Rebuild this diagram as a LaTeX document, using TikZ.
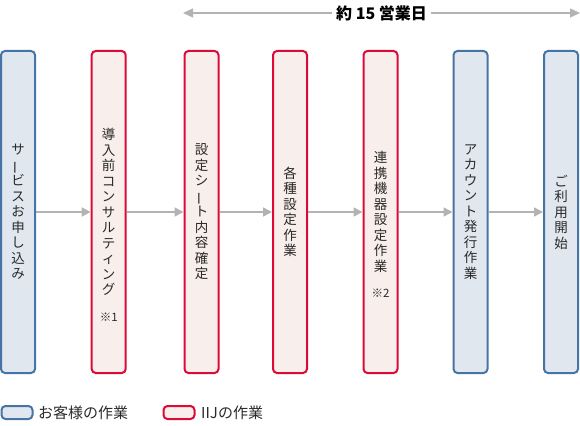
\documentclass[tikz,border=0pt]{standalone}
\usepackage{fontspec}
\usepackage{graphicx}
\setmainfont{Noto Sans CJK JP}
\usetikzlibrary{arrows.meta}
\definecolor{custline}{HTML}{4675A5}
\definecolor{custfill}{HTML}{E0E7EF}
\definecolor{iijline}{HTML}{DC0A37}
\definecolor{iijfill}{HTML}{F8EEEB}
\definecolor{arrowgray}{HTML}{B3B3B3}
\definecolor{txt}{HTML}{2A2A2A}
\newcommand\vbar{\rotatebox[origin=c]{90}{ー}}
\begin{document}
\begin{tikzpicture}[x=1pt,y=-1pt,
  stepbox/.style={rounded corners=4pt,line width=2pt,minimum width=34pt,minimum height=322pt,
    align=center,inner sep=0pt,text=txt,font=\fontsize{13.5}{15.5}\selectfont},
  custbox/.style={stepbox,draw=custline,fill=custfill},
  iijbox/.style={stepbox,draw=iijline,fill=iijfill},
  note/.style={text=txt,font=\fontsize{11.5}{13}\selectfont,inner sep=0pt},
  flow/.style={draw=arrowgray,line width=1.6pt,-{Triangle[length=9pt,width=9pt]}},
  legbox/.style={rounded corners=4pt,line width=2pt,minimum width=31pt,minimum height=13pt,inner sep=0pt},
  legtext/.style={text=txt,font=\fontsize{15}{17}\selectfont,anchor=west,inner sep=0pt}]
\useasboundingbox (0,0) rectangle (580,425);
\node[custbox] (b1) at (18,212) {サ\\\vbar\\ビ\\ス\\お\\申\\し\\込\\み};
\node[iijbox] (b2) at (108.7,212) {導\\入\\前\\コ\\ン\\サ\\ル\\テ\\ィ\\ン\\グ};
\node[iijbox] (b3) at (201.5,212) {設\\定\\シ\\\vbar\\ト\\内\\容\\確\\定};
\node[iijbox] (b4) at (290,212) {各\\種\\設\\定\\作\\業};
\node[iijbox] (b5) at (380.5,212) {連\\携\\機\\器\\設\\定\\作\\業};
\node[custbox] (b6) at (470.5,212) {ア\\カ\\ウ\\ン\\ト\\発\\行\\作\\業};
\node[custbox] (b7) at (561,212) {ご\\利\\用\\開\\始};
\node[note] (n1) at (108.7,317) {※1};
\node[note] (n2) at (380.5,293) {※2};
\draw[flow] (b1.east) -- (b2.west);
\draw[flow] (b2.east) -- (b3.west);
\draw[flow] (b3.east) -- (b4.west);
\draw[flow] (b4.east) -- (b5.west);
\draw[flow] (b5.east) -- (b6.west);
\draw[flow] (b6.east) -- (b7.west);
\node[text=black,font=\fontsize{16}{18}\selectfont\bfseries,fill=white,inner xsep=4pt] (lab) at (381.5,13) {約 15 営業日};
\coordinate (tl) at (183,13);
\coordinate (tr) at (580,13);
\draw[draw=arrowgray,line width=1.3pt,-{Triangle[length=10pt,width=9pt]}] (lab.west) -- (tl);
\draw[draw=arrowgray,line width=1.3pt,-{Triangle[length=10pt,width=9pt]}] (lab.east) -- (tr);
\node[legbox,draw=custline,fill=custfill] (lg1) at (17,412.5) {};
\node[legtext] (lt1) at (38,412.5) {お客様の作業};
\node[legbox,draw=iijline,fill=iijfill] (lg2) at (179,412.5) {};
\node[legtext] (lt2) at (201,412.5) {IIJの作業};
\end{tikzpicture}
\end{document}
